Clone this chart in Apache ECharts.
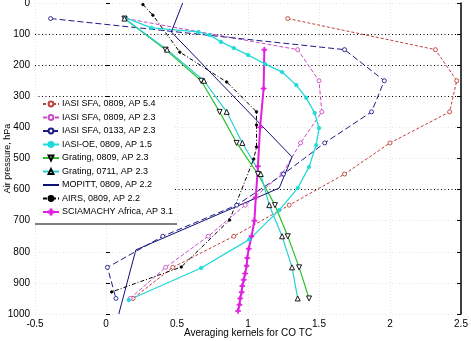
<!DOCTYPE html>
<html>
<head>
<meta charset="utf-8">
<script src="https://cdn.jsdelivr.net/npm/echarts@6/dist/echarts.min.js"></script>
<style>
html,body{margin:0;padding:0;background:#fff;}
#chart{width:471px;height:341px;}
</style>
</head>
<body>
<div id="chart"></div>
<script>
// ---- data (x = averaging kernel, p = pressure hPa) ----
const legendNames = [
  'IASI SFA, 0809, AP 5.4',
  'IASI SFA, 0809, AP 2.3',
  'IASI SFA, 0133, AP 2.3',
  'IASI-OE, 0809, AP 1.5',
  'Grating, 0809, AP 2.3',
  'Grating, 0711, AP 2.3',
  'MOPITT, 0809, AP 2.2',
  'AIRS, 0809, AP 2.2',
  'SCIAMACHY Africa, AP 3.1'
];
const pStd = [50, 150, 250, 350, 450, 550, 650, 750, 850, 950];
const sfa0809ap54 = [1.28, 2.32, 2.47, 2.42, 2.00, 1.68, 1.29, 0.90, 0.47, 0.19];
const sfa0809ap23 = [0.14, 1.35, 1.50, 1.52, 1.37, 1.24, 0.98, 0.72, 0.42, 0.17];
const sfa0133ap23 = [-0.39, 1.68, 1.96, 1.87, 1.54, 1.25, 0.92, 0.40, 0.01, 0.07];
const grating0809 = [0.13, 0.42, 0.67, 0.80, 0.92, 1.07, 1.19, 1.28, 1.36, 1.43];
const grating0711 = [0.13, 0.43, 0.69, 0.85, 0.96, 1.09, 1.15, 1.24, 1.31, 1.35];

const pOE  = [48, 80, 93, 103, 125, 145, 167, 196, 222, 264, 305, 354, 402, 457, 527, 595, 666, 760, 852, 955];
const xOE  = [0.14, 0.32, 0.65, 0.73, 0.81, 0.90, 1.00, 1.12, 1.24, 1.34, 1.41, 1.47, 1.50, 1.48, 1.43, 1.35, 1.22, 1.01, 0.67, 0.16];

const pMOPITT = [0, 93, 495, 595, 794, 1000];
const xMOPITT = [0.54, 0.46, 1.31, 1.22, 0.21, 0.09];

const pAIRS = [5, 39, 158, 254, 350, 392, 463, 502, 698, 849, 929];
const xAIRS = [0.26, 0.33, 0.52, 0.85, 1.06, 1.06, 1.06, 1.04, 0.87, 0.53, 0.04];

const pSCIA = [150, 275, 400, 525, 625, 700, 750, 790, 820, 845, 870, 890, 910, 930, 950, 970, 990];
const xSCIA = [1.115, 1.11, 1.085, 1.07, 1.055, 1.045, 1.025, 1.005, 0.995, 0.99, 0.98, 0.97, 0.96, 0.955, 0.945, 0.94, 0.93];

const xTicks = [-0.5, 2.5, 0.5];      // min, max, step
const yTicks = [0, 1000, 100];        // min, max, step

// ---- build ----
function pairs(xs, ps){ return xs.map((x,i)=>[x, ps[i]]); }
const FONT = 'Liberation Sans, Arial, Helvetica, sans-serif';
const plusPath = 'path://M4,0h2v4h4v2h-4v4h-2v-4h-4v-2h4z';

function mk(name, data, color, lineType, symbol, size, extra){
  return Object.assign({
    name: name, type: 'line', data: data, yAxisIndex: 0,
    lineStyle: {color: color, width: 1, type: lineType},
    itemStyle: {color: color, borderColor: color, borderWidth: 0.8},
    symbol: symbol, symbolSize: size, showSymbol: true,
    animation: false, z: 3
  }, extra || {});
}
function hollow(color){ return {itemStyle: {color: '#fff', borderColor: color, borderWidth: 0.9}}; }

const gridDark = '#000';
const gridLight = '#e4e4e4';
const ySplitColors = [gridLight, gridDark, gridDark, gridDark, gridLight, gridLight, gridDark, gridLight, gridLight, gridLight, gridLight];

const option = {
  backgroundColor: '#fff',
  animation: false,
  grid: {left: 35, right: 10, top: 3, bottom: 27, containLabel: false, outerBoundsMode: 'none'},
  textStyle: {fontFamily: FONT},
  xAxis: {
    type: 'value', min: xTicks[0], max: xTicks[1], interval: xTicks[2],
    axisLine: {show: false}, axisTick: {show: false},
    axisLabel: {color: '#000', fontSize: 10, margin: 5, fontFamily: FONT},
    splitLine: {show: true, lineStyle: {color: gridLight, type: [1, 2], width: 1}},
    name: 'Averaging kernels for CO TC', nameLocation: 'middle', nameGap: 19,
    nameMoveOverlap: false,
    nameTextStyle: {color: '#000', fontSize: 10, fontFamily: FONT, verticalAlign: 'middle'}
  },
  yAxis: [{
    type: 'value', inverse: true, min: yTicks[0], max: yTicks[1], interval: yTicks[2],
    position: 'left',
    axisLine: {show: false},
    axisTick: {show: true, inside: true, length: 4, lineStyle: {color: '#000'}},
    axisLabel: {color: '#000', fontSize: 10, margin: 5, fontFamily: FONT, formatter: v => String(v)},
    splitLine: {show: true, lineStyle: {color: ySplitColors, type: [1, 2.5], width: 1}},
    name: 'Air pressure, hPa', nameLocation: 'middle', nameGap: 23, nameRotate: 90,
    nameMoveOverlap: false,
    nameTextStyle: {color: '#000', fontSize: 9, fontFamily: FONT}
  }, {
    type: 'value', inverse: true, min: yTicks[0], max: yTicks[1], interval: yTicks[2],
    position: 'right',
    axisLine: {show: true, lineStyle: {color: '#000', width: 1.5}},
    axisTick: {show: true, inside: true, length: 4, lineStyle: {color: '#000'}},
    axisLabel: {show: false},
    splitLine: {show: false}
  }],
  legend: {
    orient: 'vertical', left: 35, top: 97,
    width: 142,
    backgroundColor: '#fff', borderWidth: 0,
    padding: [1, 2, 3, 7],
    itemWidth: 16, itemHeight: 6, itemGap: 1.5,
    textStyle: {color: '#000', fontSize: 9, fontFamily: FONT, lineHeight: 12, padding: [0, 0, 0, -2]},
    data: legendNames,
    z: 10
  },
  graphic: [{
    type: 'line', z: 100,
    shape: {x1: 35, y1: 224, x2: 177, y2: 224},
    style: {stroke: '#000', lineWidth: 1}
  }],
  series: [
    mk(legendNames[0], pairs(sfa0809ap54, pStd), '#c0403a', [3, 2], 'circle', 4, hollow('#c0403a')),
    mk(legendNames[1], pairs(sfa0809ap23, pStd), '#c84cc8', [4, 2], 'circle', 4, hollow('#c84cc8')),
    mk(legendNames[2], pairs(sfa0133ap23, pStd), '#1c1c86', [6, 3], 'circle', 4, hollow('#1c1c86')),
    mk(legendNames[3], pairs(xOE, pOE), '#22d8d8', 'solid', 'circle', 3.5, {lineStyle: {color: '#22d8d8', width: 1.3}}),
    mk(legendNames[4], pairs(grating0809, pStd), '#2ec02e', 'solid', 'triangle', 5,
       {symbolRotate: 180, itemStyle: {color: '#fff', borderColor: '#000', borderWidth: 0.9}, lineStyle: {color: '#2ec02e', width: 1.2}}),
    mk(legendNames[5], pairs(grating0711, pStd), '#2ad0d0', 'solid', 'triangle', 5,
       {itemStyle: {color: '#fff', borderColor: '#000', borderWidth: 0.9}, lineStyle: {color: '#2ad0d0', width: 1.2}}),
    mk(legendNames[6], pairs(xMOPITT, pMOPITT), '#10107a', 'solid', 'circle', 0,
       {showSymbol: false, itemStyle: {color: 'rgba(0,0,0,0)', borderColor: 'rgba(0,0,0,0)', borderWidth: 0}}),
    mk(legendNames[7], pairs(xAIRS, pAIRS), '#000000', [4, 2, 1, 2], 'circle', 2.5),
    mk(legendNames[8], pairs(xSCIA, pSCIA), '#e020e0', 'solid', plusPath, 5, {lineStyle: {color: '#e020e0', width: 2}})
  ]
};

const chart = echarts.init(document.getElementById('chart'), null, {renderer: 'canvas'});
chart.setOption(option);
</script>
</body>
</html>
